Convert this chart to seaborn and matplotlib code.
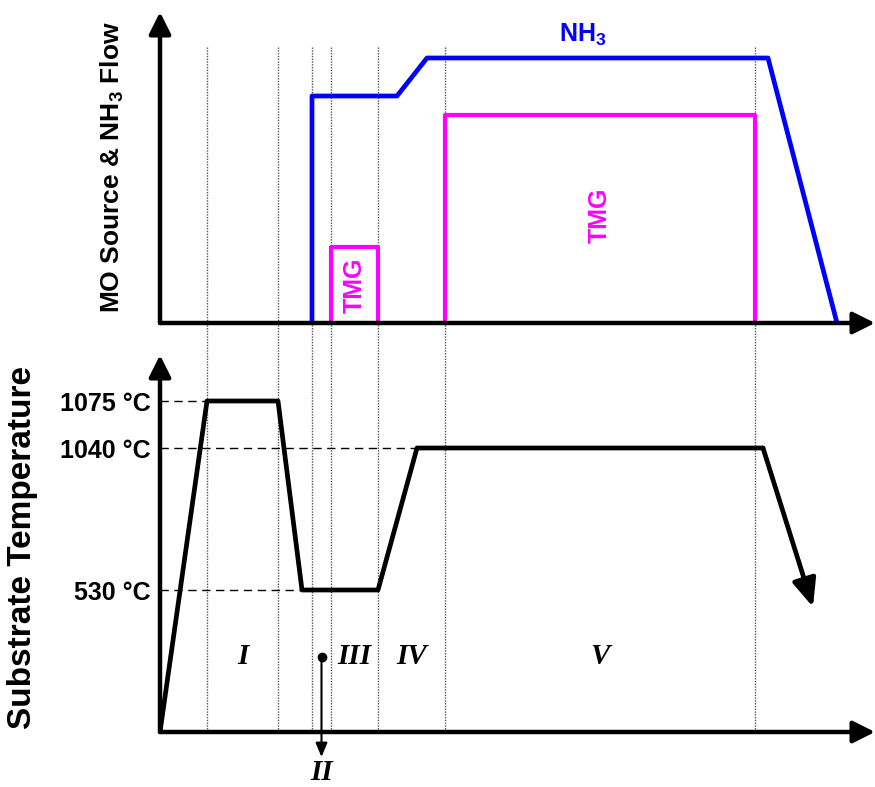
import numpy as np
import pandas as pd
import matplotlib
matplotlib.use("Agg")
import matplotlib.pyplot as plt
import seaborn as sns
from matplotlib.transforms import blended_transform_factory

sns.set_theme(style="white")
plt.rcParams['font.family'] = ['Liberation Sans', 'DejaVu Sans']
plt.rcParams['mathtext.fontset'] = 'custom'
plt.rcParams['mathtext.rm'] = 'Liberation Sans:bold'
plt.rcParams['mathtext.default'] = 'rm'
plt.rcParams['text.color'] = 'black'
plt.rcParams['axes.labelcolor'] = 'black'
plt.rcParams['ytick.color'] = 'black'
plt.rcParams['xtick.color'] = 'black'

# ---------------- data (schematic units) ----------------
phase_bounds = [47, 118, 152, 171, 218, 285, 595]
phase_names = ["I", "II", "III", "IV", "V"]
phase_label_spans = [(47, 118), (152, 171), (171, 218), (218, 285), (285, 595)]

nh3_time = [152, 152, 237, 267, 608, 677]
nh3_flow = [0, 227, 227, 265, 265, 0]

tmg1_time = [171, 171, 218, 218]
tmg1_flow = [0, 76, 76, 0]

tmg2_time = [285, 285, 595, 595]
tmg2_flow = [0, 208, 208, 0]

temp_time = [0, 47, 118, 142, 218, 257, 603, 653]
temp_level = [0, 331, 331, 142, 142, 284, 284, 125]

level_heights = [331, 284, 142]
level_labels = ["1075 °C", "1040 °C", "530 °C"]

# ---------------- figure ----------------
W, H = 875, 787
fig = plt.figure(figsize=(W / 100, H / 100), dpi=100)
ax_top = fig.add_axes([160 / W, (H - 323) / H, 715 / W, 311 / H])
ax_bot = fig.add_axes([160 / W, (H - 732) / H, 715 / W, 377 / H])
XMAX, YTOP, YBOT = 715, 311, 377

for ax in (ax_top, ax_bot):
    ax.set_facecolor('none')
    for s in ax.spines.values():
        s.set_visible(False)
    ax.set_xticks([])
    ax.tick_params(length=0)
    ax.set_xlim(0, XMAX)

BLUE = '#0000ff'
MAG = '#ff00ff'

# vertical dotted phase boundaries spanning both panels
trans = blended_transform_factory(ax_top.transData, fig.transFigure)
for b in phase_bounds:
    ax_top.plot([b, b], [(H - 47) / H, (H - 732) / H], transform=trans,
                color='#555555', lw=1.0, ls=(0, (1, 1)), clip_on=False,
                scalex=False, scaley=False, zorder=1)

# ---------------- top panel ----------------
df_nh3 = pd.DataFrame({"t": nh3_time, "f": nh3_flow})
df_t1 = pd.DataFrame({"t": tmg1_time, "f": tmg1_flow})
df_t2 = pd.DataFrame({"t": tmg2_time, "f": tmg2_flow})
sns.lineplot(data=df_t1, x="t", y="f", sort=False, estimator=None, color=MAG, lw=3.0, ax=ax_top, zorder=3)
sns.lineplot(data=df_t2, x="t", y="f", sort=False, estimator=None, color=MAG, lw=3.0, ax=ax_top, zorder=3)
sns.lineplot(data=df_nh3, x="t", y="f", sort=False, estimator=None, color=BLUE, lw=3.4, ax=ax_top, zorder=4)
ax_top.set_xlim(0, XMAX)
ax_top.set_ylim(0, YTOP)
ax_top.set_yticks([])
ax_top.set_xlabel("")
ax_top.set_ylabel("MO Source & NH$_3$ Flow", fontsize=19, fontweight='bold', va='center')
ax_top.yaxis.set_label_coords(-0.067, 0.5)

ax_top.text(np.mean(nh3_time[3:5]) - 15, 288, "NH$_3$", color=BLUE, fontsize=18,
            fontweight='bold', ha='center', va='center')
ax_top.text(np.mean(tmg1_time[1:3]), tmg1_flow[1] / 2, "TMG", color=MAG, fontsize=18,
            fontweight='bold', ha='center', va='center', rotation=90)
ax_top.text(np.mean(tmg2_time[1:3]), tmg2_flow[1] / 2 + 4, "TMG", color=MAG, fontsize=18,
            fontweight='bold', ha='center', va='center', rotation=90)

arrow_kw = dict(arrowstyle='-|>,head_length=0.6,head_width=0.3', lw=3.2, color='black',
                mutation_scale=22, shrinkA=0, shrinkB=0)
for ax in (ax_top, ax_bot):
    ax.annotate("", xy=(1, 0), xytext=(0, 0), xycoords='axes fraction',
                textcoords='axes fraction', arrowprops=arrow_kw, zorder=5)
    ax.annotate("", xy=(0, 1), xytext=(0, 0), xycoords='axes fraction',
                textcoords='axes fraction', arrowprops=arrow_kw, zorder=5)

# ---------------- bottom panel ----------------
df_temp = pd.DataFrame({"t": temp_time[:-1], "T": temp_level[:-1]})
sns.lineplot(data=df_temp, x="t", y="T", sort=False, estimator=None, color='black', lw=3.4, ax=ax_bot, zorder=4)
ax_bot.annotate("", xy=(temp_time[-1], temp_level[-1]), xytext=(temp_time[-2], temp_level[-2]),
                arrowprops=dict(arrowstyle='-|>,head_length=0.7,head_width=0.3', lw=3.4,
                                color='black', mutation_scale=24, shrinkA=0, shrinkB=0), zorder=4)
ax_bot.set_xlim(0, XMAX)
ax_bot.set_ylim(0, YBOT)

tt = np.array(temp_time)
hh = np.array(temp_level)
for h in level_heights:
    xend = tt[np.argmax(hh == h)]
    ax_bot.plot([0, xend], [h, h], color='black', lw=1.0, ls=(0, (6, 4)), zorder=2)

ax_bot.set_yticks(level_heights)
ax_bot.set_yticklabels(level_labels, fontsize=18, fontweight='bold')
ax_bot.tick_params(axis='y', pad=7, length=0)
ax_bot.set_ylabel("Substrate Temperature", fontsize=24, fontweight='bold', va='center')
ax_bot.yaxis.set_label_coords(-0.192, 0.489)
ax_bot.set_xlabel("Time", fontsize=23, fontweight='bold', va='center')
ax_bot.xaxis.set_label_coords(0.531, -0.069)

# phase labels
LABEL_Y = 75
for name, (a, b) in zip(phase_names, phase_label_spans):
    xm = (a + b) / 2
    if name == "II":
        ax_bot.plot([xm], [LABEL_Y], 'o', color='black', ms=6, zorder=5)
        ax_bot.annotate("", xy=(xm, -25), xytext=(xm, LABEL_Y),
                        arrowprops=dict(arrowstyle='-|>,head_length=0.6,head_width=0.25',
                                        lw=1.5, color='black', mutation_scale=14, shrinkA=0, shrinkB=0),
                        annotation_clip=False, zorder=5)
        ax_bot.text(xm, -40, name, fontsize=21, family='Liberation Serif', style='italic',
                    fontweight='bold', ha='center', va='center', clip_on=False)
    else:
        ax_bot.text(xm, LABEL_Y, name, fontsize=21, family='Liberation Serif', style='italic',
                    fontweight='bold', ha='center', va='center')

fig.savefig("out.png", dpi=100)
